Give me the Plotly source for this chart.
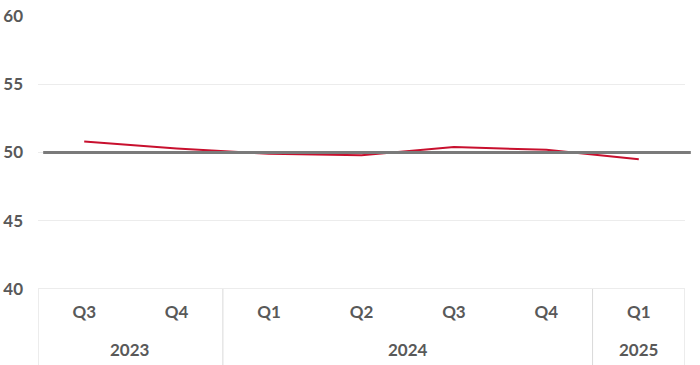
import plotly.graph_objects as go

quarters = ["Q3", "Q4", "Q1", "Q2", "Q3", "Q4", "Q1"]
years = ["2023", "2023", "2024", "2024", "2024", "2024", "2025"]
values = [50.8, 50.3, 49.9, 49.8, 50.4, 50.2, 49.5]
y_ticks = [40, 45, 50, 55, 60]
reference_level = 50

font_family = "Lato"
text_color = "#595959"
x_pos = list(range(len(quarters)))

fig = go.Figure()
fig.add_trace(go.Scatter(
    x=x_pos, y=values, mode="lines",
    line=dict(color="#c8102e", width=2),
    hoverinfo="skip", showlegend=False,
))

# reference line at 50 (extends slightly past the plot area on the right)
fig.add_shape(type="line", xref="paper", yref="y",
              x0=0.008, x1=1.009, y0=reference_level, y1=reference_level,
              line=dict(color="#7a7a7a", width=3), layer="above")

# group dividers for the year table
groups = []
for i, yr in enumerate(years):
    if not groups or groups[-1][0] != yr:
        groups.append([yr, i, i])
    else:
        groups[-1][2] = i
bounds = sorted({g[1] - 0.5 for g in groups} | {g[2] + 0.5 for g in groups})
for b in bounds:
    fig.add_shape(type="line", xref="x", yref="paper",
                  x0=b, x1=b, y0=0, y1=-0.32,
                  line=dict(color="#d9d9d9", width=1))
for yr, i0, i1 in groups:
    fig.add_annotation(x=(i0 + i1) / 2, y=-0.22, xref="x", yref="paper",
                       text=yr, showarrow=False, yanchor="middle",
                       font=dict(family=font_family, size=17, color=text_color, weight="bold"))

fig.update_layout(
    width=700, height=365,
    margin=dict(l=38, r=15, t=16, b=76, autoexpand=False),
    paper_bgcolor="white", plot_bgcolor="white",
    xaxis=dict(
        range=[-0.5, 6.5], tickvals=x_pos, ticktext=quarters,
        showgrid=False, zeroline=False, showline=False, ticks="",
        ticklabelstandoff=11, automargin=False,
        tickfont=dict(family=font_family, size=17, color=text_color, weight="bold"),
    ),
    yaxis=dict(
        range=[40, 60], tickvals=y_ticks,
        showgrid=True, gridcolor="#ececec", gridwidth=1,
        zeroline=False, showline=False, ticks="",
        ticklabelstandoff=14, automargin=False,
        tickfont=dict(family=font_family, size=17, color=text_color, weight="bold"),
    ),
)
fig.add_shape(type="line", xref="paper", yref="y", x0=0, x1=1, y0=40, y1=40,
              line=dict(color="#d9d9d9", width=1))

fig.write_html("out.html", config={"displayModeBar": False},
               post_script="document.body.style.margin='0';")
